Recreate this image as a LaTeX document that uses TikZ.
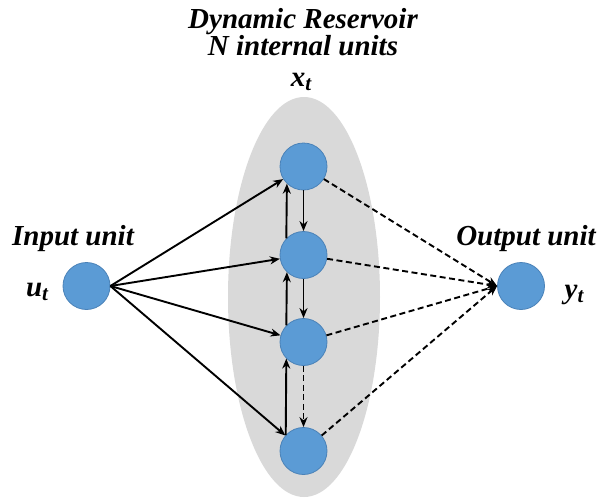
\documentclass[tikz,border=0pt]{standalone}
\usepackage{fontspec}
\setmainfont{Liberation Serif}
\usetikzlibrary{arrows.meta}
\definecolor{nodeblue}{HTML}{5B9BD5}
\definecolor{nodeedge}{HTML}{4A82B8}
\definecolor{resgray}{HTML}{D9D9D9}
\newcommand{\mysubvar}[2]{#1\raisebox{-0.35ex}{\fontsize{21}{22}\selectfont #2}}
\begin{document}
\begin{tikzpicture}[x=1pt,y=-1pt,
  unit/.style={circle,fill=nodeblue,draw=nodeedge,line width=0.8pt,minimum size=47pt,inner sep=0pt},
  lbl/.style={font=\fontsize{29}{26}\selectfont\bfseries\itshape,inner sep=0pt},
  conn/.style={line width=1.9pt,-{Stealth[length=10pt,width=8pt]}},
  dconn/.style={conn,dash pattern=on 6pt off 3.5pt}]
\useasboundingbox (0,0) rectangle (598,499);
\fill[resgray] (304,297) ellipse [x radius=76, y radius=200];
\node[unit] (in) at (86.5,286) {};
\node[unit] (out) at (521,286) {};
\node[unit] (r1) at (303.5,166.5) {};
\node[unit] (r2) at (303.5,255) {};
\node[unit] (r3) at (303.5,342) {};
\node[unit] (r4) at (303.5,451) {};
\node[lbl,anchor=north,align=center] (title) at (303,8)
  {Dynamic Reservoir\\N internal units};
\node[lbl,anchor=base] (xt) at (301,86) {\mysubvar{x}{t}};
\node[lbl,anchor=base] (inl) at (73,245) {Input unit};
\node[lbl,anchor=base] (ut) at (37,296) {\mysubvar{u}{t}};
\node[lbl,anchor=base] (outl) at (526,245) {Output unit};
\node[lbl,anchor=base] (yt) at (574,298) {\mysubvar{y}{t}};
\coordinate (src) at (in.east);
\foreach \r in {r1,r2,r3,r4} \draw[conn] (src) -- (\r);
\coordinate (dst) at (out.west);
\foreach \r in {r1,r2,r3,r4} \draw[dconn] (\r) -- (dst);
\draw[conn] (r1.south) -- (r2.north);
\draw[conn] (r2.south) -- (r3.north);
\draw[dconn] (r3.south) -- (r4.north);
\draw[conn] (r2.136) -- (r1.226);
\draw[conn] (r3.136) -- (r2.226);
\draw[conn] (r4.138) -- (r3.224);
\end{tikzpicture}
\end{document}
